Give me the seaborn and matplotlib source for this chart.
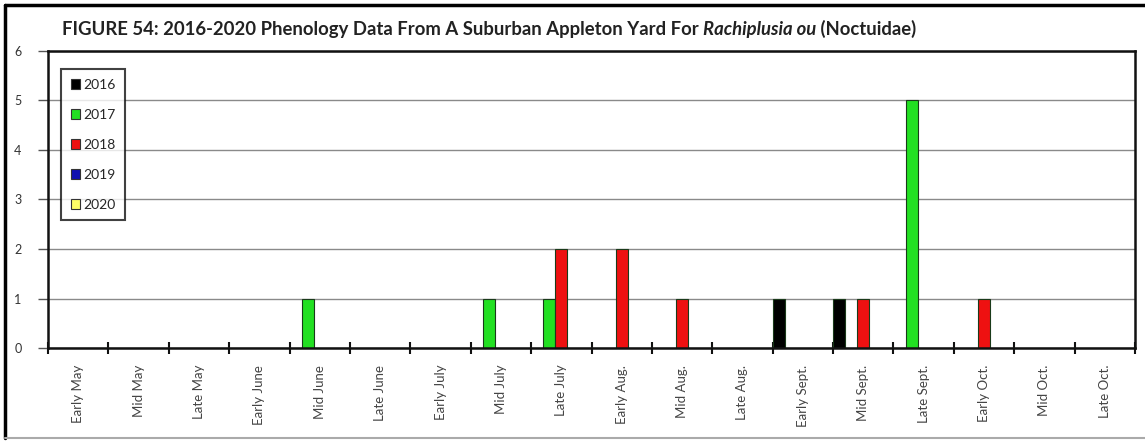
import matplotlib
matplotlib.use("Agg")
import matplotlib.pyplot as plt
from matplotlib.patches import Rectangle
from matplotlib.lines import Line2D
import pandas as pd
import seaborn as sns

periods = ["Early May", "Mid May", "Late May", "Early June", "Mid June", "Late June",
           "Early July", "Mid July", "Late July", "Early Aug.", "Mid Aug.", "Late Aug.",
           "Early Sept.", "Mid Sept.", "Late Sept.", "Early Oct.", "Mid Oct.", "Late Oct."]
years = ["2016", "2017", "2018", "2019", "2020"]
counts_2016 = [0, 0, 0, 0, 0, 0, 0, 0, 0, 0, 0, 0, 1, 1, 0, 0, 0, 0]
counts_2017 = [0, 0, 0, 0, 1, 0, 0, 1, 1, 0, 0, 0, 0, 0, 5, 0, 0, 0]
counts_2018 = [0, 0, 0, 0, 0, 0, 0, 0, 2, 2, 1, 0, 0, 1, 0, 1, 0, 0]
counts_2019 = [0] * 18
counts_2020 = [0] * 18
year_colors = ["#000000", "#22e022", "#ee1111", "#1010b0", "#ffff66"]

rows = []
for yr, vals in zip(years, [counts_2016, counts_2017, counts_2018, counts_2019, counts_2020]):
    for p, v in zip(periods, vals):
        rows.append({"period": p, "year": yr, "count": v})
df = pd.DataFrame(rows)

sns.set_theme(style="white")
plt.rcParams["font.family"] = ["Lato", "DejaVu Sans"]

W, H = 1145, 442
fig = plt.figure(figsize=(W / 100, H / 100), dpi=100)
ax = fig.add_axes([48 / W, 1 - 348 / H, (1135 - 48) / W, (348 - 51) / H])

sns.barplot(data=df, x="period", y="count", hue="year", order=periods,
            hue_order=years, palette=year_colors, saturation=1, width=1.0, gap=0,
            edgecolor="#1a3a1a", linewidth=0.8, legend=False, ax=ax)

ax.set_xlim(-0.5, len(periods) - 0.5)
ax.set_ylim(0, 6)
ax.set_yticks(range(0, 7))
ax.set_yticklabels([str(i) for i in range(0, 7)], fontsize=9, color="#333333")
ax.yaxis.grid(True, color="#8a8a8a", linewidth=1.0)
ax.set_axisbelow(True)
ax.tick_params(axis="y", direction="out", length=7, width=1, color="#555555", pad=12, left=True)

ax.set_xticks(range(len(periods)))
ax.set_xticklabels(periods, rotation=90, fontsize=9.5, color="#444444")
ax.tick_params(axis="x", which="major", length=0, pad=12)
ax.set_xticks([i - 0.5 for i in range(len(periods) + 1)], minor=True)
ax.tick_params(axis="x", which="minor", direction="inout", length=9, width=1.5,
               color="#111111", bottom=True)
ax.set_xlabel("")
ax.set_ylabel("")

for side in ["left", "bottom", "top", "right"]:
    ax.spines[side].set_visible(True)
    ax.spines[side].set_color("#111111")
    ax.spines[side].set_linewidth(1.8)

handles = [Rectangle((0, 0), 1, 1, facecolor=c, edgecolor="#333333", linewidth=0.8)
           for c in year_colors]
leg = ax.legend(handles, years, loc="upper left", bbox_to_anchor=(0.012, 0.94),
                frameon=True, fancybox=False, fontsize=10, handlelength=0.7,
                handleheight=0.7, handletextpad=0.2, labelspacing=1.3,
                borderpad=0.7, borderaxespad=0)
leg.get_frame().set_edgecolor("#111111")
leg.get_frame().set_linewidth(1.5)

# Title in three parts so the species name can be set in italics
fig.canvas.draw()
renderer = fig.canvas.get_renderer()
x0 = 62
parts = [("FIGURE 54: 2016-2020 Phenology Data From A Suburban Appleton Yard For ", "normal"),
         ("Rachiplusia ou", "italic"),
         (" (Noctuidae)", "normal")]
for txt, style in parts:
    t = fig.text(x0 / W, 1 - 29 / H, txt, fontsize=13.3, fontweight="bold",
                 fontstyle=style, color="#222222", va="center", ha="left")
    bb = t.get_window_extent(renderer)
    x0 = bb.x1

# Chart frame
fig.add_artist(Line2D([5 / W, 1.0], [1 - 5 / H, 1 - 5 / H], color="#000000", linewidth=2.5,
                      transform=fig.transFigure))
fig.add_artist(Line2D([5 / W, 5 / W], [1 - 5 / H, 1 - 438 / H], color="#000000", linewidth=2.5,
                      transform=fig.transFigure))
fig.add_artist(Line2D([5 / W, 1.0], [1 - 438 / H, 1 - 438 / H], color="#aaaaaa", linewidth=1.5,
                      transform=fig.transFigure))

fig.savefig("out.png", dpi=100)
